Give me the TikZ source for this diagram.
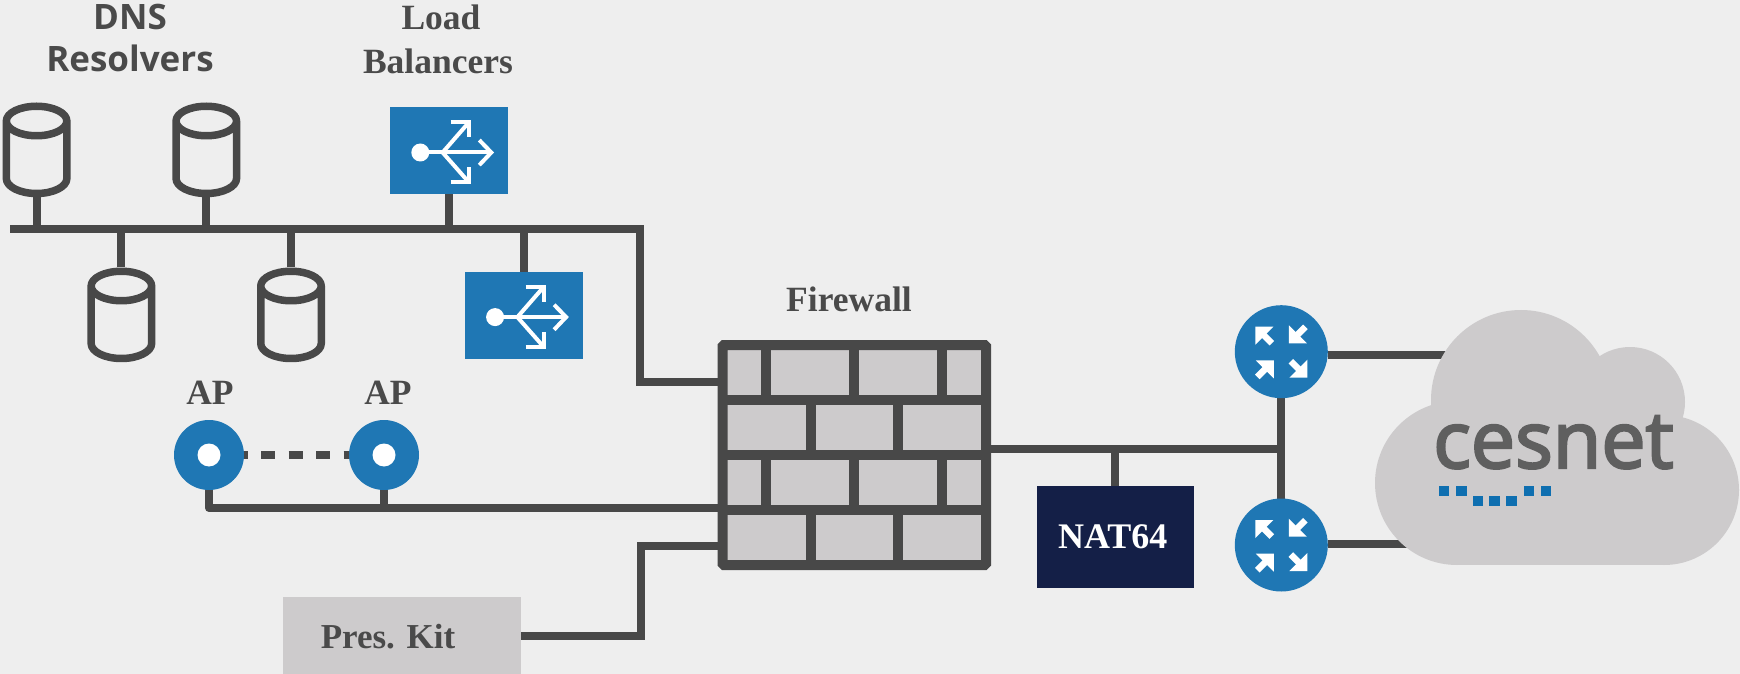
\documentclass[tikz,border=0pt]{standalone}
\usepackage{fontspec}
\usetikzlibrary{backgrounds,calc}
\setmainfont{Liberation Serif}
\newfontfamily\dnsfont{Open Sans}
\newfontfamily\cesfont[FakeBold=3]{Open Sans}
\definecolor{bgc}{HTML}{EEEEEE}
\definecolor{linec}{HTML}{484848}
\definecolor{textc}{HTML}{4A4A4A}
\definecolor{bluec}{HTML}{1F77B4}
\definecolor{grayc}{HTML}{CDCBCC}
\definecolor{navyc}{HTML}{141F47}
\definecolor{cesc}{HTML}{5F5F5F}
\definecolor{dotc}{HTML}{0F6FB0}
\tikzset{
  x=1pt,y=-1pt,
  conn/.style={draw=linec,line width=8pt},
  apdash/.style={draw=linec,line width=8pt,dash pattern=on 14pt off 13.5pt,dash phase=10.5pt},
  lbl/.style={font=\fontsize{35.5}{38}\selectfont\bfseries,text=textc,inner sep=0pt},
  dnslbl/.style={font=\fontsize{35}{38}\selectfont\dnsfont\bfseries,text=textc,inner sep=0pt},
  cyl/.style={minimum width=68pt,minimum height=95pt,inner sep=0pt,outer sep=0pt},
  lbbox/.style={fill=bluec,minimum width=118pt,minimum height=87pt,inner sep=0pt,outer sep=0pt},
  apnode/.style={circle,fill=bluec,minimum size=70pt,inner sep=0pt,outer sep=0pt},
  rtnode/.style={circle,fill=bluec,minimum size=93pt,inner sep=0pt,outer sep=0pt},
  icon/.style={draw=white,line width=4pt},
  brickline/.style={draw=linec,line width=10pt},
  cesdot/.style={fill=dotc,minimum size=10.5pt,inner sep=0pt,outer sep=0pt},
}
\newcommand{\cylshape}[1]{%
  \draw[linec,line width=7.5pt,fill=none,line join=round]
    ($(#1.north)+(-30.25,18.5)$) arc[start angle=180,end angle=-180,x radius=30.25pt,y radius=-14.75pt]
    -- ($(#1.north)+(-30.25,76)$) arc[start angle=180,end angle=360,x radius=30.25pt,y radius=15pt]
    -- ($(#1.north)+(30.25,18.5)$);}
\newcommand{\lbicon}[1]{%
  \begin{scope}[shift={(#1.north west)}]
    \fill[white] (30,45.4) circle[radius=9pt];
    \draw[icon] (30,45.4) -- (100,45.4);
    \draw[icon] (52.3,45.4) -- (78.8,15);
    \draw[icon] (52.3,45.4) -- (78.8,75.4);
    \draw[icon,line join=miter] (60.4,15) -- (78.8,15) -- (78.8,30);
    \draw[icon,line join=miter] (60.4,75.4) -- (78.8,75.4) -- (78.8,60);
    \draw[icon,line join=miter] (89,33) -- (101,45.4) -- (89,58);
  \end{scope}}
\newcommand{\rtarrow}[4]{%
  \begin{scope}[shift={(#1)},shift={(#2)},xscale=#3,yscale=#4]
    \fill[white] (0,0) -- (18,0) -- (0,18) -- cycle;
    \draw[white,line width=6.5pt] (6,6) -- (16.5,16.5);
  \end{scope}}
\newcommand{\rticon}[1]{%
  \rtarrow{#1}{-26,-25}{1}{1}
  \rtarrow{#1}{7.6,-8.3}{1}{-1}
  \rtarrow{#1}{-7.5,8.7}{-1}{1}
  \rtarrow{#1}{26,26}{-1}{-1}}
\begin{document}
\begin{tikzpicture}
\useasboundingbox (0,0) rectangle (1740,673.5);
\begin{scope}[on background layer]
  \fill[bgc] (0,0) rectangle (1740,673.5);
\end{scope}

% labels
\node[dnslbl] (ldns1) at (130,17) {DNS};
\node[dnslbl] (ldns2) at (130,58) {Resolvers};
\node[lbl] (lload) at (441,17) {Load};
\node[lbl] (lbal) at (438,61) {Balancers};
\node[lbl] (lfw) at (849,299) {Firewall};
\node[lbl] (lap1) at (210,393) {AP};
\node[lbl] (lap2) at (388,393) {AP};

% DNS resolvers
\node[cyl] (dns1) at (36.6,150) {};
\node[cyl] (dns2) at (206.3,150) {};
\node[cyl] (dns3) at (121.4,315) {};
\node[cyl] (dns4) at (291,315) {};
\cylshape{dns1}\cylshape{dns2}\cylshape{dns3}\cylshape{dns4}

% load balancers
\node[lbbox] (lb1) at (449.3,150.6) {};
\node[lbbox] (lb2) at (524.1,315.2) {};
\lbicon{lb1}\lbicon{lb2}

% firewall
\node[fill=grayc,minimum width=263.5pt,minimum height=220pt,inner sep=0pt,outer sep=0pt] (fw) at (854.25,455) {};
\draw[brickline,rounded corners=1.5pt] (fw.north west) rectangle (fw.south east);
\draw[brickline] (722.5,400) -- (986,400) (722.5,455) -- (986,455) (722.5,510) -- (986,510);
\draw[brickline] (766.4,345) -- (766.4,400) (854.3,345) -- (854.3,400) (942,345) -- (942,400);
\draw[brickline] (810.5,400) -- (810.5,455) (898.3,400) -- (898.3,455);
\draw[brickline] (766.4,455) -- (766.4,510) (854.3,455) -- (854.3,510) (942,455) -- (942,510);
\draw[brickline] (810.5,510) -- (810.5,565) (898.3,510) -- (898.3,565);

% NAT64
\node[fill=navyc,text=white,font=\fontsize{36}{38}\selectfont\bfseries,minimum width=157pt,minimum height=102pt,inner sep=0pt,outer sep=0pt] (nat) at (1115.3,537) {\hspace*{-5pt}NAT64};

% access points
\node[apnode] (ap1) at (209,455) {};
\node[apnode] (ap2) at (384,455) {};
\fill[white] (ap1) circle[radius=11.5pt];
\fill[white] (ap2) circle[radius=11.5pt];

% routers
\node[rtnode] (r1) at (1281.3,351.7) {};
\node[rtnode] (r2) at (1281.3,545) {};
\rticon{r1}\rticon{r2}

% cloud
\fill[grayc] (1521,400) circle[radius=90pt];
\fill[grayc] (1630,402) circle[radius=55pt];
\fill[grayc] (1457,483) circle[radius=82pt];
\fill[grayc] (1664,490) circle[radius=75pt];
\fill[grayc] (1457,420) rectangle (1664,565);
\node[font=\fontsize{79}{82}\selectfont\cesfont,text=cesc,anchor=base west,inner sep=0pt] (ces) at (1433,468) {cesnet};
\node[cesdot] (d1) at (1443.8,491) {};
\node[cesdot] (d2) at (1461.7,491) {};
\node[cesdot] (d3) at (1477.9,501) {};
\node[cesdot] (d4) at (1494.4,501) {};
\node[cesdot] (d5) at (1511.6,501) {};
\node[cesdot] (d6) at (1528.9,491) {};
\node[cesdot] (d7) at (1546,491) {};

% Pres. Kit
\node[fill=grayc,inner sep=0pt,outer sep=0pt,minimum width=238.4pt,minimum height=80pt,anchor=north west] (kit) at (283,596.5) {};
\node[lbl,font=\fontsize{35}{38}\selectfont\bfseries] (lkit) at (388,637) {Pres. Kit};

% connectors
\begin{scope}[on background layer]
  \coordinate (busL) at (10,228.6);
  \coordinate (busR) at (640,228.6);
  \coordinate (fwT) at (fw.west |- 0,382);
  \coordinate (fwM) at (fw.west |- 0,508);
  \coordinate (fwB) at (fw.west |- 0,546);
  \coordinate (fwE) at (fw.east |- 0,448.5);
  \coordinate (rj) at (r1.south |- fwE);
  \coordinate (cl1) at (1480,355);
  \coordinate (cl2) at (1480,544);
  \draw[conn,line join=miter] (busL) -- (busR) -- (busR |- fwT) -- (fwT);
  \draw[conn] (dns1.south) -- (dns1.south |- busL);
  \draw[conn] (dns2.south) -- (dns2.south |- busL);
  \draw[conn] (dns3.north) -- (dns3.north |- busL);
  \draw[conn] (dns4.north) -- (dns4.north |- busL);
  \draw[conn] (lb1.south) -- (lb1.south |- busL);
  \draw[conn] (lb2.north) -- (lb2.north |- busL);
  \draw[conn,line join=round] (ap1.south) -- (ap1.south |- fwM) -- (fwM);
  \draw[conn] (ap2.south) -- (ap2.south |- fwM);
  \draw[apdash] (ap1) -- (ap2);
  \draw[conn,line join=miter] (kit.east |- 0,636) -- (641,636) -- (641,546) -- (fwB);
  \draw[conn] (fwE) -- (rj);
  \draw[conn] (nat.north) -- (nat.north |- fwE);
  \draw[conn] (r1.south) -- (r2.north);
  \draw[conn] (r1.east |- cl1) -- (cl1);
  \draw[conn] (r2.east |- cl2) -- (cl2);
\end{scope}
\end{tikzpicture}
\end{document}
